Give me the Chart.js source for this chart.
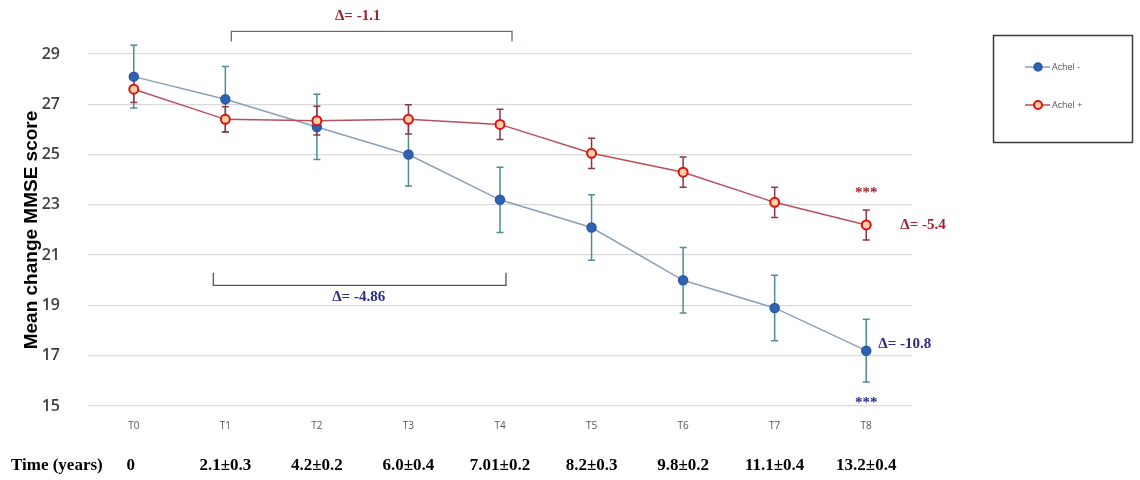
<!DOCTYPE html>
<html lang="en">
<head>
    <meta charset="UTF-8">
    <title>Mean change MMSE score</title>
    <script src="https://cdn.jsdelivr.net/npm/chart.js"></script>
    <style>
        body {
            margin: 0;
            background: #ffffff;
        }

        .chart-box {
            position: relative;
            width: 1140px;
            height: 480px;
        }
    </style>
</head>
<body>
    <div class="chart-box">
        <canvas id="mmseChart"></canvas>
    </div>

    <script>
        // data
        const timepoints = ['T0', 'T1', 'T2', 'T3', 'T4', 'T5', 'T6', 'T7', 'T8'];
        const timeYears = ['0', '2.1±0.3', '4.2±0.2', '6.0±0.4', '7.01±0.2', '8.2±0.3', '9.8±0.2', '11.1±0.4', '13.2±0.4'];
        const achelMinus = [28.1, 27.2, 26.1, 25.0, 23.2, 22.1, 20.0, 18.9, 17.2];
        const achelMinusErr = [1.25, 1.3, 1.3, 1.25, 1.3, 1.3, 1.3, 1.3, 1.25];
        const achelPlus = [27.6, 26.4, 26.35, 26.4, 26.2, 25.05, 24.3, 23.1, 22.2];
        const achelPlusErr = [0.53, 0.5, 0.57, 0.58, 0.6, 0.6, 0.6, 0.6, 0.6];
        const yTicks = [15, 17, 19, 21, 23, 25, 27, 29];

        const BLUE_ERR = '#4f8c95';
        const RED_ERR = '#8a3846';
        const NAVY = '#2b2b8c';
        const DARK_RED = '#a3222f';

        // error bars drawn under the markers
        const errorBars = {
            id: 'errorBars',
            beforeDatasetsDraw(chart) {
                const { ctx, scales: { x, y } } = chart;
                const sets = [
                    { values: achelMinus, err: achelMinusErr, color: BLUE_ERR },
                    { values: achelPlus, err: achelPlusErr, color: RED_ERR }
                ];
                ctx.save();
                ctx.lineWidth = 1.5;
                sets.forEach(s => {
                    ctx.strokeStyle = s.color;
                    s.values.forEach((v, i) => {
                        const px = x.getPixelForValue(i);
                        const top = y.getPixelForValue(v + s.err[i]);
                        const bot = y.getPixelForValue(v - s.err[i]);
                        ctx.beginPath();
                        ctx.moveTo(px, top);
                        ctx.lineTo(px, bot);
                        ctx.moveTo(px - 3.5, top);
                        ctx.lineTo(px + 3.5, top);
                        ctx.moveTo(px - 3.5, bot);
                        ctx.lineTo(px + 3.5, bot);
                        ctx.stroke();
                    });
                });
                ctx.restore();
            }
        };

        // brackets, delta labels, time row and the boxed legend
        const extras = {
            id: 'extras',
            afterDraw(chart) {
                const { ctx, scales: { x, y } } = chart;
                const t1 = x.getPixelForValue(1);
                const t4 = x.getPixelForValue(4);
                const t8 = x.getPixelForValue(8);
                ctx.save();

                // top bracket (Achel +)
                ctx.lineWidth = 1.3;
                ctx.strokeStyle = '#7d6468';
                let yl = y.getPixelForValue(29.9);
                let ye = y.getPixelForValue(29.5);
                ctx.beginPath();
                ctx.moveTo(t1 + 6, ye);
                ctx.lineTo(t1 + 6, yl);
                ctx.lineTo(t4 + 12, yl);
                ctx.lineTo(t4 + 12, ye);
                ctx.stroke();

                // bottom bracket (Achel -)
                ctx.strokeStyle = '#545866';
                yl = y.getPixelForValue(19.8);
                ye = y.getPixelForValue(20.3);
                ctx.beginPath();
                ctx.moveTo(t1 - 12, ye);
                ctx.lineTo(t1 - 12, yl);
                ctx.lineTo(t4 + 6, yl);
                ctx.lineTo(t4 + 6, ye);
                ctx.stroke();

                ctx.font = 'bold 15px "Liberation Serif", serif';
                ctx.textBaseline = 'middle';
                ctx.textAlign = 'center';
                ctx.fillStyle = DARK_RED;
                ctx.fillText('Δ= -1.1', (t1 + t4) / 2 - 5, y.getPixelForValue(30.52));
                ctx.fillStyle = NAVY;
                ctx.fillText('Δ= -4.86', (t1 + t4) / 2 - 4, y.getPixelForValue(19.33));

                ctx.textAlign = 'left';
                ctx.fillStyle = DARK_RED;
                ctx.fillText('Δ= -5.4', t8 + 34, y.getPixelForValue(22.2));
                ctx.fillStyle = NAVY;
                ctx.fillText('Δ= -10.8', t8 + 12, y.getPixelForValue(17.45));

                ctx.textAlign = 'center';
                ctx.font = 'bold 15px "Liberation Serif", serif';
                ctx.fillStyle = DARK_RED;
                ctx.fillText('***', t8, y.getPixelForValue(23.6) + 3);
                ctx.fillStyle = NAVY;
                ctx.fillText('***', t8, y.getPixelForValue(15.25) + 3);

                // time row under the axis
                ctx.fillStyle = '#000000';
                ctx.font = 'bold 17px "Liberation Serif", serif';
                ctx.textAlign = 'left';
                ctx.fillText('Time (years)', 11, 466);
                ctx.textAlign = 'center';
                timeYears.forEach((t, i) => {
                    const dx = i === 0 ? -3 : 0;
                    ctx.fillText(t, x.getPixelForValue(i) + dx, 466);
                });

                // legend box
                ctx.strokeStyle = '#3c3c3c';
                ctx.lineWidth = 1.5;
                ctx.strokeRect(993.5, 35.5, 139, 107);
                const entries = [
                    { label: 'Achel -', y: 67, line: '#8aa0b8', fill: '#2f62b0', edge: '#2a58a5', w: 1.5 },
                    { label: 'Achel +', y: 105, line: '#b8505c', fill: '#ffcfa6', edge: '#e01010', w: 2 }
                ];
                ctx.font = '9px "Open Sans", sans-serif';
                ctx.textAlign = 'left';
                entries.forEach(e => {
                    ctx.strokeStyle = e.line;
                    ctx.lineWidth = 1.5;
                    ctx.beginPath();
                    ctx.moveTo(1025, e.y);
                    ctx.lineTo(1050, e.y);
                    ctx.stroke();
                    ctx.beginPath();
                    ctx.arc(1038, e.y, 4, 0, Math.PI * 2);
                    ctx.fillStyle = e.fill;
                    ctx.fill();
                    ctx.strokeStyle = e.edge;
                    ctx.lineWidth = e.w;
                    ctx.stroke();
                    ctx.fillStyle = '#555555';
                    ctx.fillText(e.label, 1052, e.y);
                });

                ctx.restore();
            }
        };

        const ctx = document.getElementById('mmseChart').getContext('2d');

        new Chart(ctx, {
            type: 'line',
            data: {
                labels: timepoints,
                datasets: [
                    {
                        label: 'Achel -',
                        data: achelMinus,
                        borderColor: '#8aa0b8',
                        borderWidth: 1.5,
                        pointBackgroundColor: '#2f62b0',
                        pointBorderColor: '#2a58a5',
                        pointBorderWidth: 1.5,
                        pointRadius: 4.5,
                        tension: 0,
                        order: 2
                    },
                    {
                        label: 'Achel +',
                        data: achelPlus,
                        borderColor: '#b8505c',
                        borderWidth: 1.5,
                        pointBackgroundColor: '#ffcfa6',
                        pointBorderColor: '#e01010',
                        pointBorderWidth: 2,
                        pointRadius: 4.5,
                        tension: 0,
                        order: 1
                    }
                ]
            },
            options: {
                responsive: true,
                maintainAspectRatio: false,
                animation: false,
                layout: {
                    padding: { top: 54, right: 228, bottom: 0, left: 0 }
                },
                plugins: {
                    legend: { display: false },
                    tooltip: { enabled: false }
                },
                scales: {
                    x: {
                        offset: true,
                        grid: { display: false },
                        border: { display: false },
                        ticks: {
                            color: '#555555',
                            padding: 6,
                            font: { size: 10, family: '"Open Sans", sans-serif' }
                        },
                        afterFit(scale) {
                            scale.height = 74;
                        }
                    },
                    y: {
                        min: 15,
                        max: 29,
                        afterBuildTicks(scale) {
                            scale.ticks = yTicks.map(v => ({ value: v }));
                        },
                        grid: {
                            color: '#d9d9d9',
                            lineWidth: 1.3,
                            drawTicks: false
                        },
                        border: { display: false },
                        ticks: {
                            color: '#404040',
                            padding: 28,
                            font: { size: 16, weight: '600', family: '"Open Sans", sans-serif' }
                        },
                        title: {
                            display: true,
                            text: 'Mean change MMSE score',
                            color: '#000000',
                            padding: { top: 20, bottom: 0 },
                            font: { size: 19, weight: 'bold', family: '"Liberation Sans", Arial, sans-serif' }
                        },
                        afterFit(scale) {
                            scale.width = 88;
                        }
                    }
                }
            },
            plugins: [errorBars, extras]
        });
    </script>
</body>
</html>
